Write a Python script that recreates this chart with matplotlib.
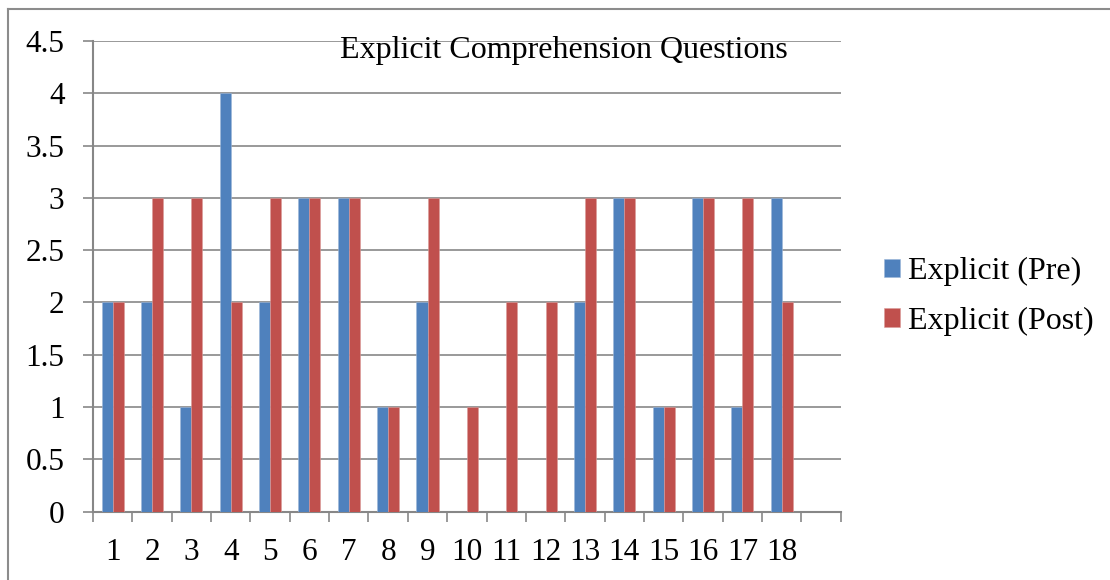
import matplotlib
matplotlib.use("Agg")
import matplotlib.pyplot as plt
from matplotlib.lines import Line2D
import numpy as np

questions = [str(i) for i in range(1, 19)]
pre_scores = [2, 2, 1, 4, 2, 3, 3, 1, 2, 0, 0, 0, 2, 3, 1, 3, 1, 3]
post_scores = [2, 3, 3, 2, 3, 3, 3, 1, 3, 1, 2, 2, 3, 3, 1, 3, 3, 2]
y_ticks = [0, 0.5, 1, 1.5, 2, 2.5, 3, 3.5, 4, 4.5]
y_tick_labels = ["0", "0.5", "1", "1.5", "2", "2.5", "3", "3.5", "4", "4.5"]
series_names = ["Explicit (Pre)", "Explicit (Post)"]
title = "Explicit Comprehension Questions"

BLUE = "#4F81BD"
RED = "#C0504D"
GRID = "#878787"

plt.rcParams["font.family"] = ["Liberation Serif", "DejaVu Serif"]

fig = plt.figure(figsize=(11.10, 5.80), dpi=100)
ax = fig.add_axes([0.0838, 0.1178, 0.6736, 0.8115])

n_slots = len(questions) + 1  # one trailing empty category
x = np.arange(len(questions))
bw = 0.28
ax.bar(x + 0.5 - bw / 2, pre_scores, width=bw, color=BLUE, zorder=3,
       edgecolor="#9DB7D9", linewidth=0.4, label=series_names[0])
ax.bar(x + 0.5 + bw / 2, post_scores, width=bw, color=RED, zorder=3,
       edgecolor="#DB9B99", linewidth=0.4, label=series_names[1])

ax.set_xlim(0, n_slots)
ax.set_ylim(0, 4.5)

# horizontal gridlines
for yv in y_ticks[1:]:
    ax.axhline(yv, color=GRID, linewidth=1.2, zorder=1)

for s in ["top", "right"]:
    ax.spines[s].set_visible(False)
for s in ["left", "bottom"]:
    ax.spines[s].set_color(GRID)
    ax.spines[s].set_linewidth(1.5)

ax.set_yticks(y_ticks)
ax.set_yticklabels(y_tick_labels, fontsize=22.5)
ax.tick_params(axis="y", length=7.5, width=1.2, color=GRID, pad=13)

# tick marks between categories, labels centred in each slot
ax.set_xticks(np.arange(n_slots + 1))
ax.set_xticklabels([])
ax.set_xticks(x + 0.5, minor=True)
ax.set_xticklabels(questions, minor=True, fontsize=22.5)
ax.tick_params(axis="x", which="major", length=7, width=1.2, color=GRID, direction="out")
ax.tick_params(axis="x", which="minor", length=0, pad=19)

ax.text(0.63, 0.964, title, transform=ax.transAxes, ha="center", va="baseline",
        fontsize=23, zorder=4)

ax.legend(loc="center left", bbox_to_anchor=(884 / 1110, 1 - 296.5 / 580),
          bbox_transform=fig.transFigure, frameon=False, borderaxespad=0,
          borderpad=0, fontsize=23, handlelength=0.5, handleheight=0.5,
          handletextpad=0.25, labelspacing=0.64)

# outer chart border (top and left edges)
fig.add_artist(Line2D([7.5 / 1110, 1.0], [1 - 9 / 580, 1 - 9 / 580],
                      transform=fig.transFigure, color="#8C8C8C", linewidth=1.5))
fig.add_artist(Line2D([7.5 / 1110, 7.5 / 1110], [0.0, 1 - 9 / 580],
                      transform=fig.transFigure, color="#8C8C8C", linewidth=1.5))

fig.savefig("out.png", dpi=100, facecolor="white")
